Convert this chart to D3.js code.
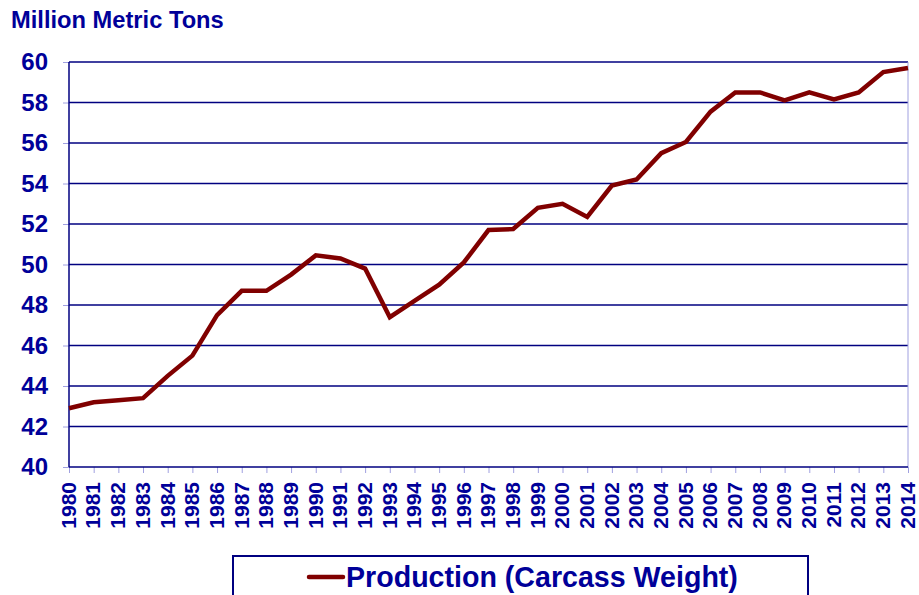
<!DOCTYPE html>
<html>
<head>
<meta charset="utf-8">
<script src="https://cdn.jsdelivr.net/npm/d3@7"></script>
<style>
  html, body { margin: 0; padding: 0; background: #fff; }
  svg { display: block; font-family: "Liberation Sans", Arial, sans-serif; font-weight: bold; }
</style>
</head>
<body>
<svg id="chart" width="919" height="595"></svg>
<script>
const years = [1980,1981,1982,1983,1984,1985,1986,1987,1988,1989,1990,1991,1992,1993,1994,1995,1996,1997,1998,1999,2000,2001,2002,2003,2004,2005,2006,2007,2008,2009,2010,2011,2012,2013,2014];
const production = [42.9,43.2,43.3,43.4,44.5,45.5,47.5,48.7,48.7,49.5,50.45,50.3,49.8,47.4,48.2,49.0,50.1,51.7,51.75,52.8,53.0,52.35,53.9,54.2,55.5,56.05,57.55,58.5,58.5,58.1,58.5,58.15,58.5,59.5,59.7];
const yTicks = [40,42,44,46,48,50,52,54,56,58,60];
const titleText = "Million Metric Tons";
const seriesName = "Production (Carcass Weight)";

const navy = "#000099";
const gridColor = "#000080";
const lineColor = "#800000";
const tickColor = "#a0a0e0";

const svg = d3.select("#chart");
const mLeft = 69, mRight = 908, mTop = 62, mBottom = 467;

const x = d3.scalePoint().domain(years).range([mLeft, mRight]);
const y = d3.scaleLinear().domain([40, 60]).range([mBottom, mTop]);

// title
svg.append("text").attr("x", 11).attr("y", 28)
  .attr("font-size", 23.7).attr("fill", navy).text(titleText);

// gridlines
svg.append("g").selectAll("line").data(yTicks.filter(d => d > 40)).join("line")
  .attr("x1", mLeft).attr("x2", mRight)
  .attr("y1", d => y(d)).attr("y2", d => y(d))
  .attr("stroke", gridColor).attr("stroke-width", 1.5);

// right border
svg.append("line").attr("x1", mRight).attr("x2", mRight).attr("y1", mTop).attr("y2", mBottom)
  .attr("stroke", tickColor).attr("stroke-width", 1);

// y axis
const yAxis = svg.append("g").attr("transform", `translate(${mLeft},0)`)
  .call(d3.axisLeft(y).tickValues(yTicks).tickSize(6).tickPadding(15));
yAxis.select(".domain").remove();
yAxis.selectAll(".tick line").attr("stroke", tickColor);
yAxis.selectAll(".tick text").attr("font-size", 24).attr("fill", navy)
  .attr("font-family", "'Liberation Sans', Arial, sans-serif").attr("font-weight", "bold");
svg.append("line").attr("x1", mLeft).attr("x2", mLeft).attr("y1", mTop).attr("y2", mBottom)
  .attr("stroke", gridColor).attr("stroke-width", 1.5);

// x axis
const xAxis = svg.append("g").attr("transform", `translate(0,${mBottom})`)
  .call(d3.axisBottom(x).tickSize(6).tickSizeOuter(0));
xAxis.select(".domain").remove();
xAxis.selectAll(".tick line").attr("stroke", tickColor);
xAxis.selectAll(".tick text")
  .attr("font-size", 21).attr("fill", navy)
  .attr("font-family", "'Liberation Sans', Arial, sans-serif").attr("font-weight", "bold")
  .attr("text-anchor", "end")
  .attr("transform", "translate(0,15) rotate(-90)")
  .attr("x", 0).attr("y", 0).attr("dy", "0.3em");
svg.append("line").attr("x1", mLeft).attr("x2", mRight).attr("y1", mBottom).attr("y2", mBottom)
  .attr("stroke", gridColor).attr("stroke-width", 1.5);

// line
svg.append("path").datum(production)
  .attr("fill", "none").attr("stroke", lineColor).attr("stroke-width", 4.5)
  .attr("stroke-linejoin", "miter")
  .attr("d", d3.line().x((d, i) => x(years[i])).y(d => y(d)));

// legend
svg.append("rect").attr("x", 233).attr("y", 556).attr("width", 575).attr("height", 60)
  .attr("fill", "none").attr("stroke", gridColor).attr("stroke-width", 2);
svg.append("line").attr("x1", 309).attr("x2", 343).attr("y1", 577).attr("y2", 577)
  .attr("stroke", lineColor).attr("stroke-width", 4.5).attr("stroke-linecap", "round");
svg.append("text").attr("x", 346).attr("y", 587).attr("font-size", 28.6).attr("fill", navy)
  .text(seriesName);
</script>
</body>
</html>
